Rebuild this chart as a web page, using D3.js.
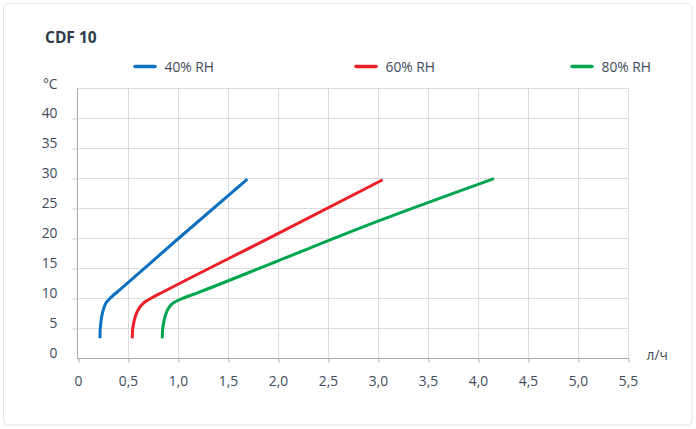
<!DOCTYPE html>
<html>
<head>
<meta charset="utf-8">
<script src="https://cdn.jsdelivr.net/npm/d3@7"></script>
<style>
  html, body { margin: 0; padding: 0; background: #fff; }
  svg { display: block; font-family: "Open Sans", "Noto Sans", sans-serif; }
</style>
</head>
<body>
<svg id="chart" width="696" height="429"></svg>
<script>
const title = "CDF 10";
const xTicks = [0, 0.5, 1.0, 1.5, 2.0, 2.5, 3.0, 3.5, 4.0, 4.5, 5.0, 5.5];
const yTicks = [0, 5, 10, 15, 20, 25, 30, 35, 40];
const xUnit = "л/ч";
const yUnit = "°C";
const seriesNames = ["40% RH", "60% RH", "80% RH"];
const seriesColors = ["#0a70bf", "#ee1f27", "#00a550"];

// [flow l/h, temperature °C]
const rh40 = [[0.220,3.3],[0.221,4.5],[0.226,5.5],[0.238,7.0],[0.258,8.3],[0.285,9.3],[0.330,10.1],[0.420,11.4],[1.010,20],[1.693,29.8]];
const rh60 = [[0.543,3.3],[0.545,4.5],[0.553,5.5],[0.575,7.0],[0.612,8.3],[0.665,9.3],[0.735,10.0],[0.850,11.0],[1.960,20.4],[3.047,29.7]];
const rh80 = [[0.843,3.3],[0.845,4.5],[0.852,5.5],[0.872,7.0],[0.905,8.3],[0.955,9.2],[1.040,9.9],[1.200,10.9],[2.000,16.2],[3.000,22.8],[4.160,29.9]];
const seriesData = [rh40, rh60, rh80];

const svg = d3.select("#chart");
const W = 696, H = 429;
const m = {left: 78, right: 68, top: 88, bottom: 71};

// card
svg.append("rect")
  .attr("x", 3.5).attr("y", 3.5).attr("width", 688.5).attr("height", 421.5)
  .attr("rx", 5).attr("fill", "#fff").attr("stroke", "#e2e4e6").attr("stroke-width", 1);

svg.append("text")
  .attr("x", 45).attr("y", 42.8)
  .attr("font-size", 15.5).attr("font-weight", 700).attr("fill", "#2c3a4b")
  .text(title);

const x = d3.scaleLinear().domain([0, 5.5]).range([m.left, W - m.right]);
const y = d3.scaleLinear().domain([0, 45]).range([H - m.bottom, m.top]);

const fmt = d => d === 0 ? "0" : d3.format(".1f")(d).replace(".", ",");
const FS = 13.8;
const TXT = "#3e4a5a";

// grid
const g = svg.append("g");
g.selectAll(".vg").data(xTicks.filter(d => d > 0)).join("line")
  .attr("x1", d => Math.round(x(d)) + 0.5).attr("x2", d => Math.round(x(d)) + 0.5)
  .attr("y1", y(45)).attr("y2", y(0))
  .attr("stroke", "#dcdcdc").attr("stroke-width", 1);
g.selectAll(".hg").data(yTicks.filter(d => d > 0).concat([45])).join("line")
  .attr("x1", x(0)).attr("x2", x(5.5))
  .attr("y1", d => Math.round(y(d)) + 0.5).attr("y2", d => Math.round(y(d)) + 0.5)
  .attr("stroke", "#dcdcdc").attr("stroke-width", 1);

// y axis
const yAxis = d3.axisLeft(y).tickValues(yTicks.filter(d => d > 0)).tickSize(5).tickFormat("");
const ya = svg.append("g").attr("transform", `translate(${Math.round(x(0)) - 0.5},0)`).call(yAxis);
ya.select(".domain").remove();
ya.selectAll(".tick line").attr("stroke", "#c8c8c8").attr("transform", "translate(0,0.5)");
svg.append("line")
  .attr("x1", Math.round(x(0)) - 0.5).attr("x2", Math.round(x(0)) - 0.5)
  .attr("y1", y(45)).attr("y2", y(0) + 0.5)
  .attr("stroke", "#a8a8a8");

// y labels (bottom of text sits on gridline)
svg.selectAll(".ylab").data(yTicks).join("text")
  .attr("x", 57.5).attr("y", d => y(d) - 0.3)
  .attr("text-anchor", "end").attr("font-size", FS).attr("fill", TXT)
  .text(d => d);
svg.append("text")
  .attr("x", 57.5).attr("y", y(45) + 0.7)
  .attr("text-anchor", "end").attr("font-size", FS).attr("fill", TXT)
  .text(yUnit);

// x axis
const xAxis = d3.axisBottom(x).tickValues(xTicks).tickSize(4).tickFormat("");
const xa = svg.append("g").attr("transform", `translate(0,${Math.round(y(0)) + 0.5})`).call(xAxis);
xa.select(".domain").remove();
xa.selectAll(".tick line").attr("stroke", "#a8a8a8").attr("transform", "translate(0.5,0)");
svg.append("line")
  .attr("x1", x(0) - 1).attr("x2", x(5.5) + 1)
  .attr("y1", Math.round(y(0)) + 0.5).attr("y2", Math.round(y(0)) + 0.5)
  .attr("stroke", "#a8a8a8");
svg.selectAll(".xlab").data(xTicks).join("text")
  .attr("x", d => x(d) + 0.5).attr("y", 386.3)
  .attr("text-anchor", "middle").attr("font-size", FS).attr("fill", TXT)
  .text(fmt);
svg.append("text")
  .attr("x", 646.5).attr("y", 359.8)
  .attr("font-size", FS).attr("fill", TXT)
  .text(xUnit);

// lines
const line = d3.line().x(d => x(d[0])).y(d => y(d[1])).curve(d3.curveMonotoneY);
svg.append("g").selectAll("path").data(seriesData).join("path")
  .attr("d", line)
  .attr("fill", "none")
  .attr("stroke", (d, i) => seriesColors[i])
  .attr("stroke-width", 3)
  .attr("stroke-linejoin", "round");

// legend
const legX = [135, 356, 572];
const leg = svg.append("g").selectAll("g").data(seriesNames).join("g")
  .attr("transform", (d, i) => `translate(${legX[i]},66.5)`);
leg.append("line").attr("x1", 0).attr("x2", 20).attr("y1", 0).attr("y2", 0)
  .attr("stroke", (d, i) => seriesColors[i]).attr("stroke-width", 3.5).attr("stroke-linecap", "round");
leg.append("text").attr("x", 29.5).attr("y", 5)
  .attr("font-size", FS).attr("fill", TXT)
  .text(d => d);
</script>
</body>
</html>
